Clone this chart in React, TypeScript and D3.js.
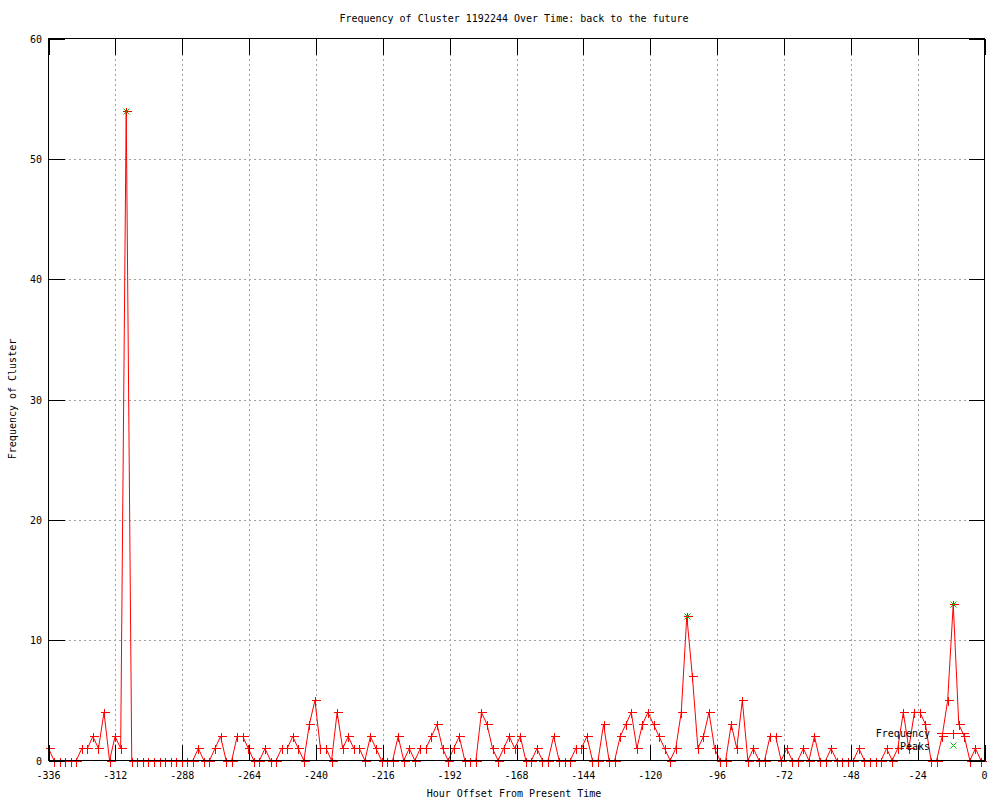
import React from 'react';
import * as d3 from 'd3';

// frequency per ~2-hour bucket, starting at -336
const hourStep = 1.9925;
const hours = d3.range(169).map(k => -336 + k * hourStep);
const frequency = [
  1, 0, 0, 0, 0, 0, 1, 1, 2, 1, 4, 0, 2, 1, 54, 0, 0, 0, 0, 0,
  0, 0, 0, 0, 0, 0, 0, 1, 0, 0, 1, 2, 0, 0, 2, 2, 1, 0, 0, 1,
  0, 0, 1, 1, 2, 1, 0, 3, 5, 1, 1, 0, 4, 1, 2, 1, 1, 0, 2, 1,
  0, 0, 0, 2, 0, 1, 0, 1, 1, 2, 3, 1, 0, 1, 2, 0, 0, 0, 4, 3,
  1, 0, 1, 2, 1, 2, 0, 0, 1, 0, 0, 2, 0, 0, 0, 1, 1, 2, 0, 0,
  3, 0, 0, 2, 3, 4, 1, 3, 4, 3, 2, 1, 0, 1, 4, 12, 7, 1, 2, 4,
  1, 0, 0, 3, 1, 5, 0, 1, 0, 0, 2, 2, 0, 1, 0, 0, 1, 0, 2, 0,
  0, 1, 0, 0, 0, 0, 1, 0, 0, 0, 0, 1, 0, 1, 4, 1, 4, 4, 3, 0,
  0, 2, 5, 13, 3, 2, 0, 1, 0,
];
const peakIndex = [14, 115, 163];
const peakValues = [54, 12, 13];
const xTicks = [-336, -312, -288, -264, -240, -216, -192, -168, -144, -120, -96, -72, -48, -24, 0];
const yTicks = [0, 10, 20, 30, 40, 50, 60];

const W = 1000;
const H = 800;
const left = 48.5;
const right = 984.5;
const top = 38.5;
const bottom = 760.5;
const font = '"DejaVu Sans Mono", monospace';
const tick = 16;

export default function App() {
  const x = d3.scaleLinear().domain([-336, 0]).range([left, right]);
  const y = d3.scaleLinear().domain([0, 60]).range([bottom, top]);

  const data = hours.map((h, i) => ({ h, v: frequency[i] }));
  const line = d3.line<{ h: number; v: number }>()
    .x(d => x(d.h))
    .y(d => y(d.v));

  const plus = (cx: number, cy: number, key: string, color = '#ff0000') => (
    <path key={key} d={`M${cx - 4},${cy}H${cx + 5}M${cx},${cy - 4}V${cy + 5}`} stroke={color} strokeWidth={1} fill="none" shapeRendering="crispEdges" />
  );
  const cross = (cx: number, cy: number, key: string) => (
    <path key={key} d={`M${cx - 3},${cy - 3}L${cx + 3},${cy + 3}M${cx - 3},${cy + 3}L${cx + 3},${cy - 3}`} stroke="#00c000" strokeWidth={1} fill="none" />
  );

  return (
    <svg width={W} height={H} style={{ position: 'absolute', left: 0, top: 0, background: '#fff' }}>
      <rect x={0} y={0} width={W} height={H} fill="#fff" />

      {/* grid */}
      <g stroke="#a0a0a0" strokeDasharray="2,3" shapeRendering="crispEdges">
        {xTicks.slice(1, -1).map(t => (
          <line key={'gx' + t} x1={Math.round(x(t)) + 0.5} x2={Math.round(x(t)) + 0.5} y1={top} y2={bottom} />
        ))}
        {yTicks.slice(1, -1).map(t => (
          <line key={'gy' + t} x1={left} x2={right} y1={Math.round(y(t)) + 0.5} y2={Math.round(y(t)) + 0.5} />
        ))}
      </g>

      {/* data */}
      <path d={line(data) || ''} fill="none" stroke="#ff0000" strokeWidth={1} />
      {data.map((d, i) => plus(Math.round(x(d.h)) + 0.5, Math.round(y(d.v)) + 0.5, 'p' + i))}
      {peakIndex.map((k, i) => cross(Math.round(x(hours[k])) + 0.5, Math.round(y(peakValues[i])) + 0.5, 'k' + i))}

      {/* ticks and frame */}
      <g stroke="#000" shapeRendering="crispEdges">
        {xTicks.map(t => {
          const px = Math.round(x(t)) + 0.5;
          return (
            <g key={'tx' + t}>
              <line x1={px} x2={px} y1={bottom} y2={bottom - tick} />
              <line x1={px} x2={px} y1={top} y2={top + tick} />
            </g>
          );
        })}
        {yTicks.map(t => {
          const py = Math.round(y(t)) + 0.5;
          return (
            <g key={'ty' + t}>
              <line x1={left} x2={left + tick} y1={py} y2={py} />
              <line x1={right} x2={right - tick} y1={py} y2={py} />
            </g>
          );
        })}
        <rect x={left} y={top} width={right - left} height={bottom - top} fill="none" />
      </g>

      {/* tick labels */}
      <g fontFamily={font} fontSize={10} fill="#000">
        {xTicks.map(t => (
          <text key={'lx' + t} x={x(t)} y={779} textAnchor="middle">{t}</text>
        ))}
        {yTicks.map(t => (
          <text key={'ly' + t} x={42} y={y(t) + 4} textAnchor="end">{t}</text>
        ))}
        <text x={514} y={22} textAnchor="middle">Frequency of Cluster 1192244 Over Time: back to the future</text>
        <text x={514} y={797} textAnchor="middle">Hour Offset From Present Time</text>
        <text transform="translate(16,399) rotate(-90)" textAnchor="middle">Frequency of Cluster</text>

        {/* legend */}
        <text x={930} y={737} textAnchor="end">Frequency</text>
        <text x={930} y={750} textAnchor="end">Peaks</text>
      </g>
      <line x1={937} x2={969} y1={733.5} y2={733.5} stroke="#ff0000" shapeRendering="crispEdges" />
      {plus(953.5, 733.5, 'legp')}
      {cross(953.5, 745.5, 'legk')}
    </svg>
  );
}
